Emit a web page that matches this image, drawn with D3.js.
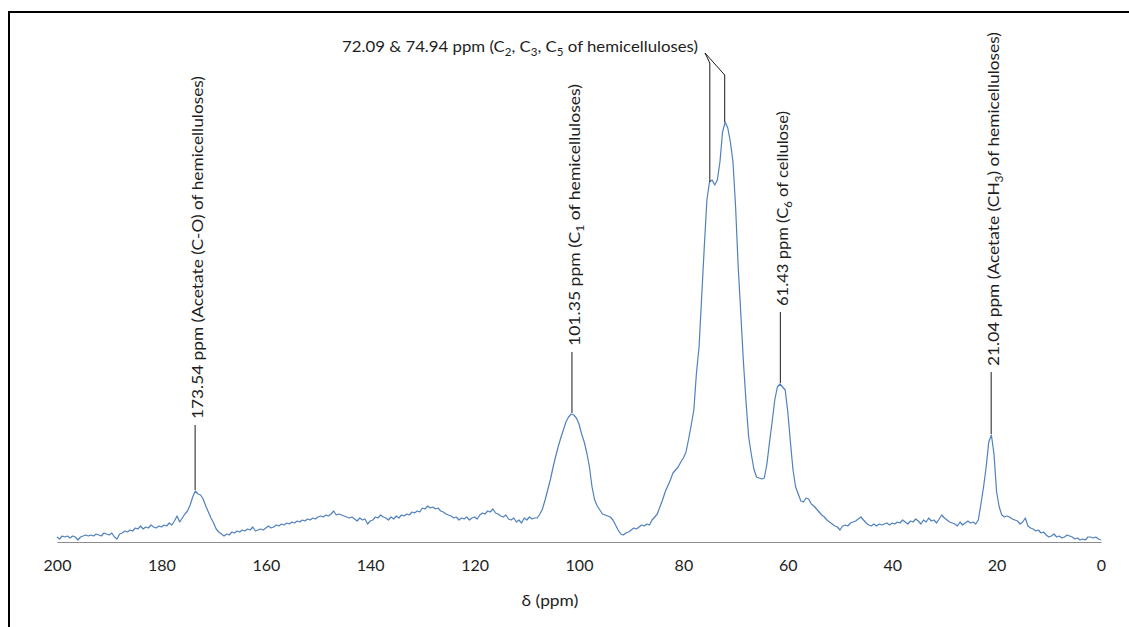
<!DOCTYPE html>
<html>
<head>
<meta charset="utf-8">
<script src="https://cdn.jsdelivr.net/npm/d3@7/dist/d3.min.js"></script>
<style>
  html, body { margin: 0; padding: 0; background: #fff; }
  svg { display: block; font-family: Lato, "Open Sans", "Liberation Sans", sans-serif; }
</style>
</head>
<body>
<svg id="chart" width="1129" height="627"></svg>
<script>
// ---------- DATA ----------
// Chemical shift grid: 200 ppm down to 0 ppm in 0.5 ppm steps
const ppmStart = 200, ppmStep = 0.5;
// Intensity (arbitrary units), one value per 0.5 ppm
const intensity = [
  5, 3, 6, 5, 6, 4, 6, 5, 2, 5,            // 200 - 195.5
  6, 7, 6, 7, 6, 8, 7, 6, 9, 8,            // 195 - 190.5
  7, 9, 5, 3, 8, 9, 11, 10, 12, 11,        // 190 - 185.5
  14, 13, 16, 13, 15, 14, 17, 15, 14, 16,  // 185 - 180.5
  15, 17, 16, 19, 17, 21, 26, 20, 24, 28,  // 180 - 175.5
  31, 37, 45, 51, 48, 47, 43, 36, 30, 24,  // 175 - 170.5
  19, 13, 10, 8, 6, 8, 7, 10, 9, 11,       // 170 - 165.5
  10, 12, 11, 13, 12, 15, 11, 12, 13, 12,  // 165 - 160.5
  14, 16, 14, 15, 17, 16, 18, 17, 19, 18,  // 160 - 155.5
  20, 19, 21, 20, 22, 21, 23, 22, 24, 23,  // 155 - 150.5
  25, 26, 25, 27, 26, 28, 31, 27, 28, 27,  // 150 - 145.5
  26, 25, 24, 25, 23, 21, 24, 22, 23, 18,  // 145 - 140.5
  21, 22, 25, 24, 27, 25, 24, 22, 25, 23,  // 140 - 135.5
  26, 24, 27, 26, 28, 27, 30, 29, 31, 30,  // 135 - 130.5
  34, 33, 36, 34, 35, 33, 34, 31, 30, 28,  // 130 - 125.5
  27, 26, 24, 25, 22, 24, 23, 25, 22, 24,  // 125 - 120.5
  25, 23, 27, 29, 28, 31, 30, 33, 29, 28,  // 120 - 115.5
  26, 25, 27, 23, 22, 24, 20, 22, 19, 24,  // 115 - 110.5
  22, 25, 23, 24, 24, 28, 33, 42, 52, 62,  // 110 - 105.5
  74, 85, 95, 104, 112, 120, 125, 128, 127, 124, // 105 - 100.5
  118, 108, 100, 89, 75, 55, 42, 36, 32, 28,     // 100 - 95.5
  27, 26, 25, 22, 17, 12, 8, 7, 9, 10,     // 95 - 90.5
  12, 14, 13, 15, 17, 16, 18, 17, 22, 25,  // 90 - 85.5
  28, 35, 42, 50, 56, 62, 69, 72, 75, 80,  // 85 - 80.5
  84, 90, 103, 117, 132, 169, 195, 245, 295, 342, // 80 - 75.5
  360, 362, 357, 362, 380, 410, 420, 414, 400, 380, // 75 - 70.5
  335, 275, 228, 180, 140, 105, 88, 73, 65, 64,    // 70 - 65.5
  63, 64, 78, 100, 120, 142, 155, 158, 155, 152,   // 65 - 60.5
  130, 100, 72, 55, 48, 41, 40, 44, 43, 38, // 60 - 55.5
  36, 33, 30, 27, 25, 22, 20, 18, 16, 15,  // 55 - 50.5
  12, 16, 17, 16, 19, 20, 21, 23, 25, 22,  // 50 - 45.5
  19, 17, 16, 18, 16, 18, 17, 18, 19, 17,  // 45 - 40.5
  19, 18, 20, 19, 22, 20, 18, 21, 20, 23,  // 40 - 35.5
  21, 18, 22, 20, 24, 21, 22, 19, 23, 27,  // 35 - 30.5
  24, 22, 20, 19, 18, 16, 20, 17, 19, 21,  // 30 - 25.5
  19, 20, 18, 22, 38, 55, 75, 100, 107, 88, // 25 - 20.5
  50, 35, 27, 25, 26, 25, 23, 22, 21, 18,  // 20 - 15.5
  20, 24, 16, 14, 13, 11, 12, 9, 10, 7,    // 15 - 10.5
  5, 6, 8, 5, 6, 4, 5, 7, 6, 5,            // 10 - 5.5
  3, 4, 2, 3, 2, 5, 5, 4, 5, 3,            // 5 - 0.5
  2                                        // 0
];

const xTicks = [200, 180, 160, 140, 120, 100, 80, 60, 40, 20, 0];
const xTitle = "δ (ppm)";

// Vertical peak annotations: ppm and label parts ([text, isSubscript])
const annotPpm = [173.54, 101.35, 61.43, 21.04];
const annotLabels = [
  [["173.54 ppm (Acetate (C-O) of hemicelluloses)", false]],
  [["101.35 ppm (C", false], ["1", true], [" of hemicelluloses)", false]],
  [["61.43 ppm (C", false], ["6", true], [" of cellulose)", false]],
  [["21.04 ppm (Acetate (CH", false], ["3", true], [") of hemicelluloses)", false]]
];
// Top (horizontal) annotation for the double peak
const topPpm = [74.94, 72.09];
const topLabel = [["72.09 & 74.94 ppm (C", false], ["2", true], [", C", false], ["3", true], [", C", false], ["5", true], [" of hemicelluloses)", false]];

// ---------- LAYOUT ----------
const svg = d3.select("#chart");
const W = 1129, H = 627;
const plot = { left: 57, right: 1101, top: 122, bottom: 542 };
const series = intensity.map((v, i) => ({ ppm: ppmStart - i * ppmStep, v }));

const x = d3.scaleLinear().domain([200, 0]).range([plot.left, plot.right]);
const y = d3.scaleLinear().domain([0, 420]).range([plot.bottom, plot.top]);

const lookup = p => {
  const i = Math.round((ppmStart - p) / ppmStep);
  return intensity[Math.max(0, Math.min(intensity.length - 1, i))];
};

// frame (cropped chart border)
svg.append("path")
  .attr("d", `M9,${H} V12 H${W}`)
  .attr("fill", "none")
  .attr("stroke", "#000")
  .attr("stroke-width", 2);

// x axis
const ax = svg.append("g")
  .attr("transform", `translate(0,${plot.bottom})`)
  .call(d3.axisBottom(x).tickValues(xTicks).tickSize(0).tickFormat(d3.format("d")));
ax.select(".domain").attr("stroke", "#8c8c8c").attr("stroke-width", 1.2);
ax.selectAll("text")
  .attr("y", 23.5)
  .attr("dy", "0.35em")
  .attr("fill", "#1e1e1e")
  .style("font-size", "16px")
  .style("font-family", "Lato, 'Open Sans', sans-serif");

svg.append("text")
  .attr("x", 550)
  .attr("y", 599)
  .attr("text-anchor", "middle")
  .attr("dominant-baseline", "central")
  .attr("fill", "#1e1e1e")
  .attr("textLength", 57)
  .attr("lengthAdjust", "spacingAndGlyphs")
  .style("font-size", "16px")
  .text(xTitle);

// spectrum line
const line = d3.line().x(d => x(d.ppm)).y(d => y(d.v)).curve(d3.curveLinear);
svg.append("path")
  .datum(series)
  .attr("d", line)
  .attr("fill", "none")
  .attr("stroke", "#4f81bd")
  .attr("stroke-width", 1.2)
  .attr("stroke-linejoin", "round");

// helper to write label parts
function writeParts(sel, parts) {
  parts.forEach(([t, sub]) => {
    const ts = sel.append("tspan").text(t);
    if (sub) ts.attr("baseline-shift", "sub").style("font-size", "11px");
  });
}

// vertical annotations
const lineLen = [65, 61, 71, 62];      // leader line length (px)
const textLen = [343, 262, 195, 334];  // label length (px)
annotPpm.forEach((p, i) => {
  const px = x(p);
  const tipY = y(lookup(p)) - 1;
  const topY = tipY - lineLen[i];
  svg.append("line")
    .attr("x1", px).attr("x2", px)
    .attr("y1", tipY).attr("y2", topY)
    .attr("stroke", "#1a1a1a").attr("stroke-width", 1);
  const t = svg.append("text")
    .attr("transform", `translate(${px + 1},${topY - 6}) rotate(-90)`)
    .attr("text-anchor", "start")
    .attr("dominant-baseline", "central")
    .attr("fill", "#1e1e1e")
    .attr("textLength", textLen[i])
    .attr("lengthAdjust", "spacingAndGlyphs")
    .style("font-size", "16px");
  writeParts(t, annotLabels[i]);
});

// top annotation with two elbow leaders
const topText = svg.append("text")
  .attr("x", 342).attr("y", 45)
  .attr("dominant-baseline", "central")
  .attr("fill", "#1e1e1e")
  .attr("textLength", 356)
  .attr("lengthAdjust", "spacingAndGlyphs")
  .style("font-size", "16px");
writeParts(topText, topLabel);

const startPt = [705, 53];
const elbowDrop = [10, 22];
topPpm.forEach((p, i) => {
  const px = x(p);
  const tipY = y(lookup(p));
  svg.append("path")
    .attr("d", `M${startPt[0]},${startPt[1]} L${px},${startPt[1] + elbowDrop[i]} L${px},${tipY}`)
    .attr("fill", "none")
    .attr("stroke", "#1a1a1a")
    .attr("stroke-width", 1);
});
</script>
</body>
</html>
